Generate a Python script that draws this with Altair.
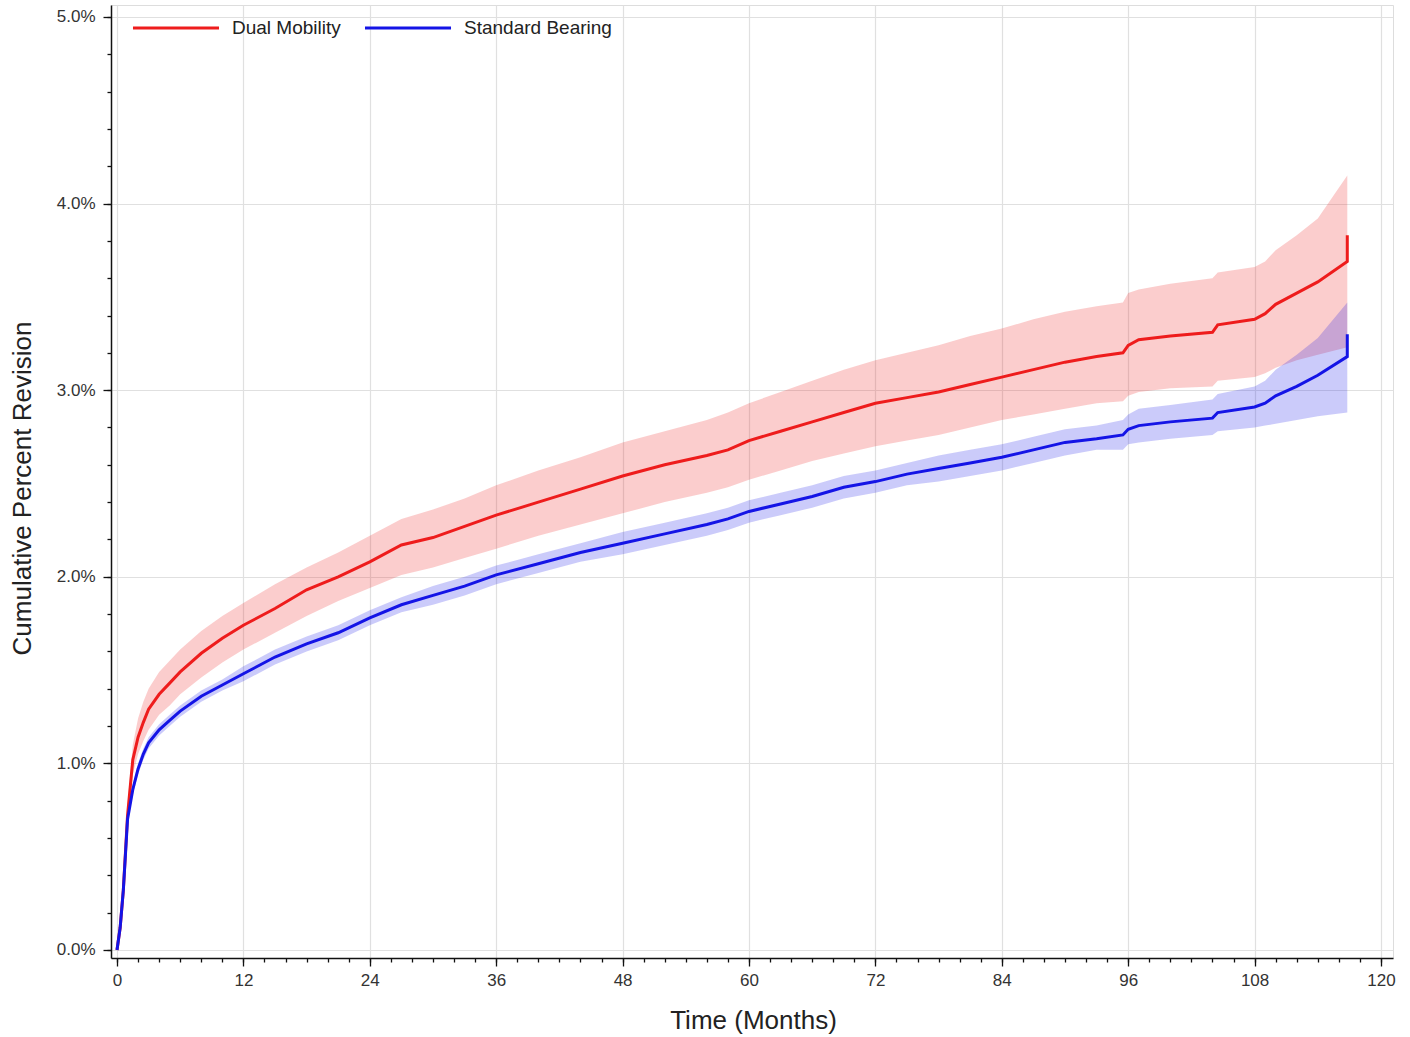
import altair as alt
import pandas as pd

# ---- data (values in percent) ----
months = [0, 0.3, 0.6, 1, 1.5, 2, 2.5, 3, 4, 5, 6, 8, 10, 12, 15, 18, 21, 24, 27, 30,
          33, 36, 40, 44, 48, 52, 56, 58, 60, 63, 66, 69, 72, 75, 78, 81, 84, 87, 90,
          93, 95.5, 96, 97, 100, 104, 104.5, 108, 109, 110, 112, 114, 116.8, 116.8]

dm_est = [0.0, 0.12, 0.32, 0.72, 1.02, 1.14, 1.22, 1.29, 1.37, 1.43, 1.49, 1.59, 1.67, 1.74,
          1.83, 1.93, 2.00, 2.08, 2.17, 2.21, 2.27, 2.33, 2.40, 2.47, 2.54, 2.60, 2.65, 2.68,
          2.73, 2.78, 2.83, 2.88, 2.93, 2.96, 2.99, 3.03, 3.07, 3.11, 3.15, 3.18, 3.20, 3.24,
          3.27, 3.29, 3.31, 3.35, 3.38, 3.41, 3.46, 3.52, 3.58, 3.69, 3.83]
dm_hi = [0.0, 0.13, 0.35, 0.78, 1.10, 1.24, 1.33, 1.40, 1.49, 1.55, 1.61, 1.71, 1.79, 1.86,
         1.96, 2.05, 2.13, 2.22, 2.31, 2.36, 2.42, 2.49, 2.57, 2.64, 2.72, 2.78, 2.84, 2.88,
         2.93, 2.99, 3.05, 3.11, 3.16, 3.20, 3.24, 3.29, 3.33, 3.38, 3.42, 3.45, 3.47, 3.52,
         3.54, 3.57, 3.60, 3.63, 3.66, 3.69, 3.75, 3.83, 3.92, 4.15, 4.15]
dm_lo = [0.0, 0.11, 0.29, 0.66, 0.94, 1.05, 1.12, 1.18, 1.26, 1.31, 1.37, 1.46, 1.54, 1.61,
         1.70, 1.79, 1.87, 1.94, 2.01, 2.05, 2.10, 2.15, 2.22, 2.28, 2.34, 2.40, 2.45, 2.48,
         2.52, 2.57, 2.62, 2.66, 2.70, 2.73, 2.76, 2.80, 2.84, 2.87, 2.90, 2.93, 2.94, 2.97,
         2.99, 3.01, 3.02, 3.05, 3.07, 3.09, 3.12, 3.16, 3.19, 3.23, 3.23]

sb_est = [0.0, 0.12, 0.32, 0.70, 0.86, 0.97, 1.05, 1.11, 1.18, 1.23, 1.28, 1.36, 1.42, 1.48,
          1.57, 1.64, 1.70, 1.78, 1.85, 1.90, 1.95, 2.01, 2.07, 2.13, 2.18, 2.23, 2.28, 2.31,
          2.35, 2.39, 2.43, 2.48, 2.51, 2.55, 2.58, 2.61, 2.64, 2.68, 2.72, 2.74, 2.76, 2.79,
          2.81, 2.83, 2.85, 2.88, 2.91, 2.93, 2.97, 3.02, 3.08, 3.18, 3.30]
sb_hi = [0.0, 0.13, 0.34, 0.72, 0.89, 1.00, 1.08, 1.14, 1.21, 1.26, 1.31, 1.39, 1.45, 1.52,
         1.61, 1.68, 1.74, 1.82, 1.89, 1.95, 2.00, 2.06, 2.12, 2.18, 2.24, 2.29, 2.34, 2.37,
         2.41, 2.45, 2.49, 2.54, 2.57, 2.61, 2.65, 2.68, 2.71, 2.75, 2.79, 2.81, 2.84, 2.87,
         2.90, 2.92, 2.95, 2.98, 3.02, 3.05, 3.11, 3.19, 3.28, 3.47, 3.47]
sb_lo = [0.0, 0.11, 0.30, 0.68, 0.83, 0.94, 1.02, 1.08, 1.15, 1.20, 1.25, 1.33, 1.39, 1.44,
         1.53, 1.60, 1.66, 1.74, 1.81, 1.85, 1.90, 1.96, 2.02, 2.08, 2.12, 2.17, 2.22, 2.25,
         2.29, 2.33, 2.37, 2.42, 2.45, 2.49, 2.51, 2.54, 2.57, 2.61, 2.65, 2.68, 2.68, 2.71,
         2.72, 2.74, 2.76, 2.78, 2.80, 2.81, 2.82, 2.84, 2.86, 2.88, 2.88]

series_names = ["Dual Mobility", "Standard Bearing"]
series_colors = ["#ee1c1c", "#1414e6"]
x_major = [0, 12, 24, 36, 48, 60, 72, 84, 96, 108, 120]
x_minor = list(range(0, 121, 2))
y_major = [0, 1, 2, 3, 4, 5]
y_minor = [round(v * 0.2, 1) for v in range(0, 26)]

rows = []
for name, est, lo, hi in [(series_names[0], dm_est, dm_lo, dm_hi),
                          (series_names[1], sb_est, sb_lo, sb_hi)]:
    for i, t in enumerate(months):
        rows.append({"t": t, "series": name, "band": name + " CI",
                     "est": est[i], "lo": lo[i], "hi": hi[i], "i": i})
df = pd.DataFrame(rows)

FONT = "Liberation Sans"
W, H = 1282, 953

xscale = alt.Scale(domain=[-0.57, 121.14], nice=False, zero=False)
yscale = alt.Scale(domain=[-0.043, 5.064], nice=False, zero=False)
band_scale = alt.Scale(domain=[n + " CI" for n in series_names], range=series_colors)

base = alt.Chart(df)

bands = base.mark_area(opacity=0.22, interpolate="linear").encode(
    x=alt.X("t:Q", scale=xscale, axis=None),
    y=alt.Y("lo:Q", scale=yscale, axis=None, stack=None),
    y2="hi:Q",
    fill=alt.Fill("band:N", scale=band_scale, legend=None),
)

minor = base.mark_point(opacity=0).encode(
    x=alt.X("t:Q", scale=xscale,
            axis=alt.Axis(values=x_minor, labels=False, tickSize=4, grid=False, title=None,
                          orient="bottom", domain=False, tickColor="#111", tickWidth=1.3)),
    y=alt.Y("est:Q", scale=yscale,
            axis=alt.Axis(values=y_minor, labels=False, tickSize=4, grid=False, title=None,
                          orient="left", domain=False, tickColor="#111", tickWidth=1.3)),
)

lines = base.mark_line(strokeWidth=3, interpolate="linear").encode(
    x=alt.X("t:Q", scale=xscale,
            axis=alt.Axis(values=x_major, tickSize=8, grid=True, gridColor="#e0e0e0", gridWidth=1.2,
                          orient="bottom",
                          title="Time (Months)", titleFontSize=26, titleFont=FONT,
                          titleFontWeight="normal", titleColor="#222",
                          titleX=642, titleY=62, titleBaseline="middle",
                          labelFontSize=17, labelFont=FONT, labelColor="#333", labelPadding=6,
                          domainColor="#111", domainWidth=1.5, tickColor="#111", tickWidth=1.3)),
    y=alt.Y("est:Q", scale=yscale,
            axis=alt.Axis(values=y_major, tickSize=8, grid=True, gridColor="#e0e0e0", gridWidth=1.2,
                          orient="left",
                          labelExpr="format(datum.value, '.1f') + '%'",
                          title="Cumulative Percent Revision", titleFontSize=26, titleFont=FONT,
                          titleFontWeight="normal", titleColor="#222",
                          titleX=-89, titleY=483, titleBaseline="middle", titleAngle=-90,
                          labelFontSize=17, labelFont=FONT, labelColor="#333", labelPadding=8,
                          domainColor="#111", domainWidth=1.5, tickColor="#111", tickWidth=1.3)),
    stroke=alt.Stroke("series:N", scale=alt.Scale(domain=series_names, range=series_colors),
                      legend=alt.Legend(title=None, orient="none", legendX=20, legendY=-22,
                                        direction="horizontal", columns=2,
                                        symbolType="stroke", symbolSize=7400,
                                        symbolStrokeWidth=3, labelFontSize=19,
                                        labelFont=FONT, labelColor="#222", labelOffset=11,
                                        columnPadding=17, padding=0)),
    order=alt.Order("i:Q"),
)

chart = alt.layer(bands, minor, lines).resolve_axis(x="independent", y="independent").properties(
    width=W, height=H,
    autosize=alt.AutoSizeParams(type="none"),
    padding={"left": 111, "top": 5, "right": 17, "bottom": 79},
).configure_view(stroke="#111", strokeWidth=1.5).configure(background="white")

chart.save("out.html", embed_options={"renderer": "svg", "actions": False})
